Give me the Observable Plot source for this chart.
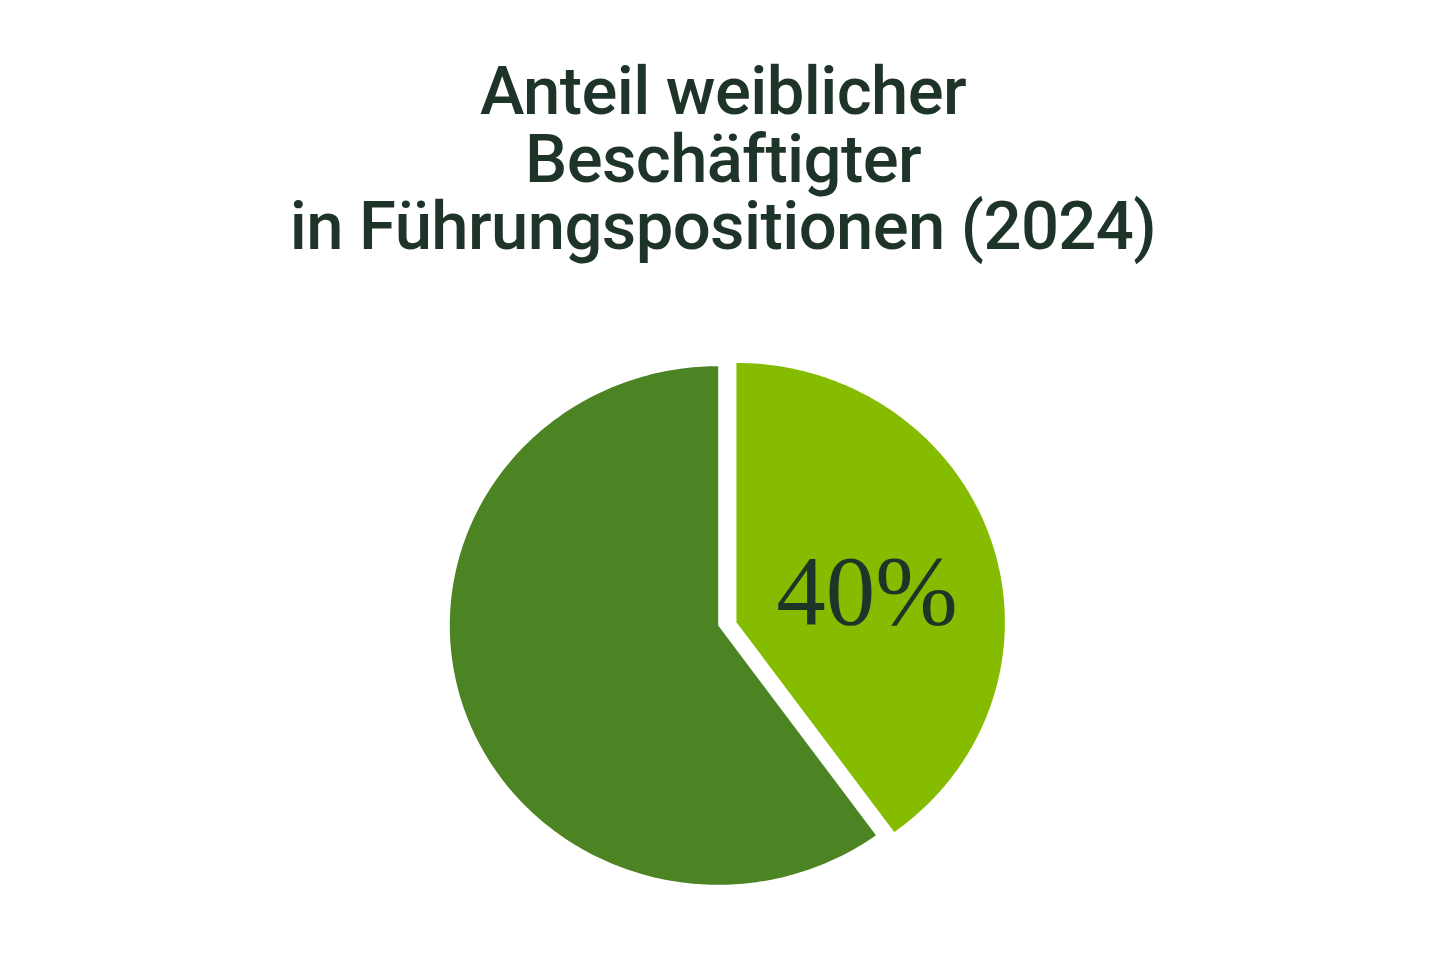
<!DOCTYPE html>
<html>
<head>
<meta charset="utf-8">
<script src="https://cdn.jsdelivr.net/npm/d3@7"></script>
<script src="https://cdn.jsdelivr.net/npm/@observablehq/plot@0.6"></script>
<style>
  html, body { margin: 0; padding: 0; background: #ffffff; }
  body { width: 1440px; height: 960px; overflow: hidden; }
  #title {
    height: 300px; box-sizing: border-box; padding-top: 58px;
    text-align: center; color: #1e3428;
    font-family: Roboto, "Open Sans", sans-serif; font-weight: 500;
    font-size: 67px; line-height: 67.5px; letter-spacing: -0.6px;
  }
  #title div { transform: translateX(3px); }
</style>
</head>
<body>
<div id="title">
  <div>Anteil weiblicher</div>
  <div>Beschäftigter</div>
  <div>in Führungspositionen (2024)</div>
</div>
<div id="chart"></div>
<script>
// Data
const categories = ["weiblich", "männlich"];
const shares = [40, 60];
const labels = ["40%", ""];
const colors = ["#85bc00", "#4d8423"];

// Build slices with d3.pie (clockwise from 12 o'clock)
const table = categories.map((c, i) => ({category: c, value: shares[i], label: labels[i]}));
const arcs = d3.pie().sort(null).value(d => d.value)(table);
const explode = {"weiblich": [0.068, 0.0127], "männlich": [0, 0]};
const steps = 240;
const points = [];
const labelPts = [];
for (const a of arcs) {
  const [ox, oy] = explode[a.data.category];
  points.push({category: a.data.category, x: ox, y: oy});
  for (let k = 0; k <= steps; k++) {
    const t = a.startAngle + (a.endAngle - a.startAngle) * k / steps;
    points.push({category: a.data.category, x: ox + Math.sin(t), y: oy + Math.cos(t)});
  }
  const m = (a.startAngle + a.endAngle) / 2;
  if (a.data.label) labelPts.push({label: a.data.label, x: ox + 0.5 * Math.sin(m), y: oy + 0.5 * Math.cos(m)});
}

const chart = Plot.plot({
  width: 1440,
  height: 660,
  x: {domain: [-1, 1], range: [449.3, 986.1], axis: null},
  y: {domain: [-1, 1], range: [584.3, 65.7], axis: null},
  color: {domain: categories, range: colors},
  marks: [
    Plot.line(points, {x: "x", y: "y", z: "category", fill: "category", stroke: "none", curve: "linear-closed"}),
    Plot.text(labelPts, {x: "x", y: "y", text: "label", fill: "#1e3428", fontSize: 99, fontFamily: "Liberation Serif, DejaVu Serif, serif", dx: 3, dy: 10, textAnchor: "middle", lineAnchor: "middle"})
  ],
  style: {background: "#ffffff", overflow: "visible"}
});
document.getElementById("chart").appendChild(chart);
</script>
</body>
</html>
